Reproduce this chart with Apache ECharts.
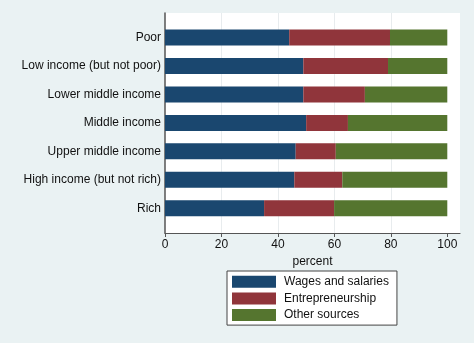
<!DOCTYPE html>
<html>
<head>
<meta charset="utf-8">
<script src="https://cdn.jsdelivr.net/npm/echarts@6/dist/echarts.min.js"></script>
<style>
  html, body { margin: 0; padding: 0; background: #eaf2f3; }
  #chart { width: 474px; height: 343px; }
</style>
</head>
<body>
<div id="chart"></div>
<script>
// Income groups, top to bottom
const categories = [
  'Poor',
  'Low income (but not poor)',
  'Lower middle income',
  'Middle income',
  'Upper middle income',
  'High income (but not rich)',
  'Rich'
];
// Share of income by source, percent
const wages = [44, 49, 49, 50, 46.3, 45.8, 35.1];
const entrepreneurship = [35.7, 30, 21.8, 14.8, 14.2, 17, 24.8];
const otherSources = [20.3, 21, 29.2, 35.2, 39.5, 37.2, 40.1];
const tickValues = [0, 20, 40, 60, 80, 100];

const FONT = 'Liberation Sans, Arial, sans-serif';
const TEXT = '#111';

const chart = echarts.init(document.getElementById('chart'), null, { renderer: 'canvas' });

chart.setOption({
  backgroundColor: '#eaf2f3',
  animation: false,
  textStyle: { fontFamily: FONT },
  grid: [
    // plot region: white panel, axes, gridlines
    { left: 165, right: 14, top: 13, bottom: 110, show: true,
      backgroundColor: '#ffffff', borderWidth: 0 },
    // bars
    { left: 165, right: 26.7, top: 23.3, bottom: 120.5 }
  ],
  xAxis: [
    {
      gridIndex: 0, type: 'value', min: 0, max: 104.5, interval: 20,
      name: 'percent', nameLocation: 'middle', nameGap: 23,
      nameTextStyle: { fontFamily: FONT, fontSize: 12, color: TEXT },
      axisLine: { show: true, lineStyle: { color: '#555', width: 1.2 } },
      axisTick: { show: true, length: 4, customValues: tickValues,
                  lineStyle: { color: '#555' } },
      axisLabel: { customValues: tickValues, margin: 6,
                   fontFamily: FONT, fontSize: 12, color: TEXT },
      splitLine: { show: true, showMinLine: false, showMaxLine: false,
                   lineStyle: { color: '#e8ecee', width: 1 } }
    },
    {
      gridIndex: 1, type: 'value', min: 0, max: 100, show: false
    }
  ],
  yAxis: [
    {
      gridIndex: 0, type: 'value', min: 0, max: 1,
      axisLine: { show: true, lineStyle: { color: '#555', width: 1.5 } },
      axisTick: { show: false }, axisLabel: { show: false },
      splitLine: { show: false }
    },
    {
      gridIndex: 1, type: 'category', data: categories, inverse: true,
      axisLine: { show: false }, axisTick: { show: false },
      axisLabel: { margin: 4, fontFamily: FONT, fontSize: 12, color: TEXT },
      splitLine: { show: false }
    }
  ],
  legend: {
    orient: 'vertical',
    left: 227, top: 271,
    padding: [4.7, 8, 4, 5],
    itemWidth: 44, itemHeight: 12, itemGap: 4.7,
    backgroundColor: '#ffffff',
    borderColor: '#444', borderWidth: 1, borderRadius: 0,
    icon: 'rect',
    textStyle: { fontFamily: FONT, fontSize: 12, color: TEXT, padding: [0, 0, 0, 3] },
    data: ['Wages and salaries', 'Entrepreneurship', 'Other sources']
  },
  series: [
    { name: 'Wages and salaries', data: wages, color: '#1a476f' },
    { name: 'Entrepreneurship', data: entrepreneurship, color: '#90353b' },
    { name: 'Other sources', data: otherSources, color: '#55752f' }
  ].map(s => ({
    type: 'bar', stack: 'total', xAxisIndex: 1, yAxisIndex: 1,
    barWidth: 16, name: s.name, data: s.data,
    itemStyle: { color: s.color }
  }))
});
</script>
</body>
</html>
